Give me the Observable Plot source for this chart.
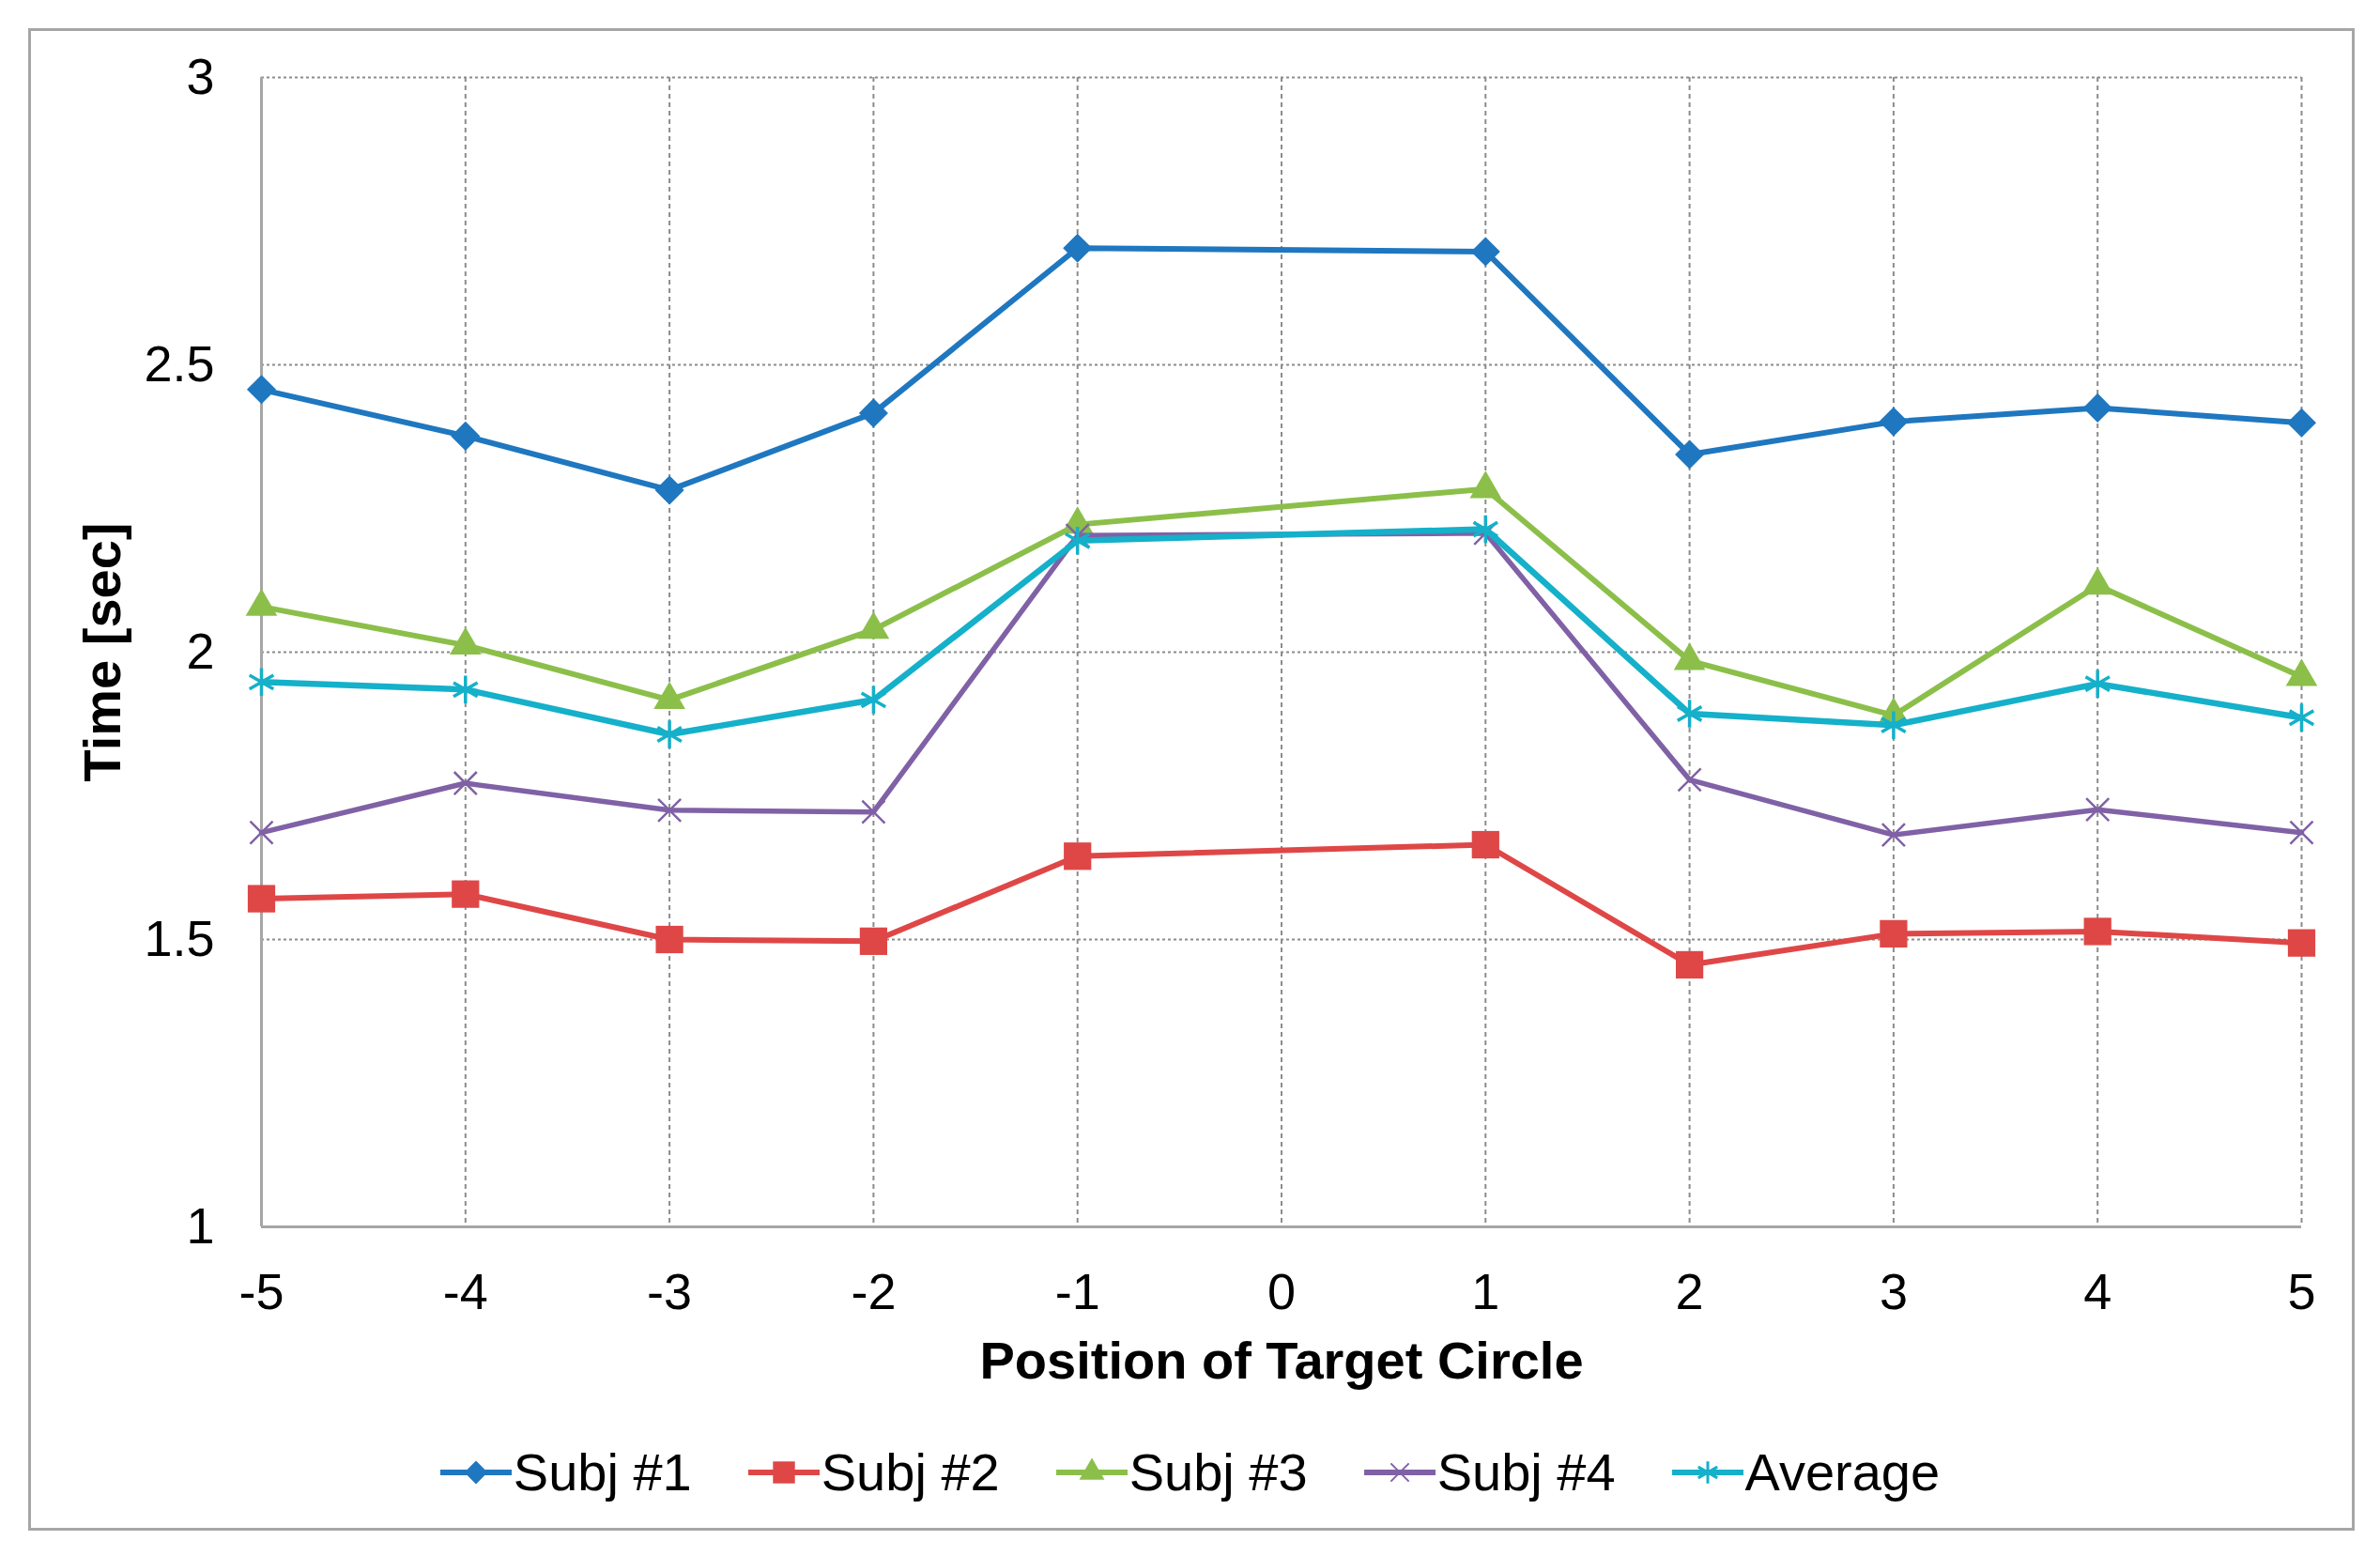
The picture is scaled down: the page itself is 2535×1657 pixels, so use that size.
<!DOCTYPE html>
<html><head><meta charset="utf-8">
<script src="https://cdn.jsdelivr.net/npm/d3@7"></script>
<script src="https://cdn.jsdelivr.net/npm/@observablehq/plot@0.6"></script>
<style>
html,body{margin:0;padding:0;background:#fff;}
body{width:2535px;height:1657px;position:relative;overflow:hidden;font-family:"Liberation Sans",Arial,sans-serif;}
#frame{position:absolute;left:30px;top:30px;width:2472px;height:1594px;border:3px solid #A6A6A6;}
#chart{position:absolute;left:0;top:0;}
#legend{position:absolute;left:0;top:1530px;width:2535px;height:76px;display:flex;justify-content:center;align-items:center;gap:60px;}
.item{display:flex;align-items:center;}
.item span{font-size:56px;color:#000;line-height:76px;margin-left:2px;}
</style></head><body>
<div id="frame"></div>
<div id="chart"></div>
<div id="legend"></div>
<script>
const positions = [-5,-4,-3,-2,-1,1,2,3,4,5];
const subj1   = [2.457,2.376,2.282,2.416,2.703,2.697,2.344,2.401,2.425,2.399];
const subj2   = [1.571,1.579,1.500,1.497,1.645,1.665,1.456,1.510,1.514,1.494];
const subj3   = [2.079,2.012,1.917,2.039,2.222,2.284,1.985,1.890,2.116,1.957];
const subj4   = [1.686,1.772,1.725,1.722,2.203,2.207,1.778,1.682,1.726,1.686];
const average = [1.948,1.935,1.857,1.917,2.194,2.214,1.893,1.873,1.945,1.886];
const seriesNames   = ["Subj #1","Subj #2","Subj #3","Subj #4","Average"];
const seriesColors  = ["#1F77C0","#DF4747","#8CBF4A","#8061A6","#15B0C9"];
const seriesSymbols = ["diamond2","square","triangle","times","asterisk"];
const xTicks = [-5,-4,-3,-2,-1,0,1,2,3,4,5];
const xTickLabels = ["-5","-4","-3","-2","-1","0","1","2","3","4","5"];
const yTicks = [1,1.5,2,2.5,3];
const yTickLabels = ["1","1.5","2","2.5","3"];
const xTitle = "Position of Target Circle";
const yTitle = "Time [sec]";

const seriesValues = [subj1, subj2, subj3, subj4, average];
const lineWidths = [6, 6, 6, 5.5, 6.5];
const markerR = [14, 16.5, 12.5, 11, 14];
const filled = [true, true, true, false, false];

const seriesMarks = [];
seriesNames.forEach((name, i) => {
  const rows = positions.map((p, j) => ({series: name, x: p, y: seriesValues[i][j]}));
  seriesMarks.push(Plot.line(rows, {x: "x", y: "y", stroke: seriesColors[i], strokeWidth: lineWidths[i], strokeLinejoin: "round"}));
  if (filled[i]) {
    seriesMarks.push(Plot.dot(rows, {x: "x", y: "y", symbol: seriesSymbols[i], r: markerR[i], fill: seriesColors[i], stroke: "none"}));
  } else {
    seriesMarks.push(Plot.dot(rows, {x: "x", y: "y", symbol: seriesSymbols[i], r: markerR[i], fill: "none", stroke: seriesColors[i], strokeWidth: i === 3 ? 2.5 : 3.5}));
  }
});

const chart = Plot.plot({
  width: 2535,
  height: 1500,
  marginLeft: 278,
  marginRight: 84,
  marginTop: 82,
  marginBottom: 194,
  style: {fontFamily: '"Liberation Sans", Arial, sans-serif', fontSize: "54px", color: "#000", background: "transparent"},
  x: {type: "linear", domain: [-5, 5]},
  y: {type: "linear", domain: [1, 3]},
  marks: [
    Plot.gridX(xTicks, {stroke: "#8C8C8C", strokeOpacity: 1, strokeWidth: 2, strokeDasharray: "5,4"}),
    Plot.gridY(yTicks, {stroke: "#8C8C8C", strokeOpacity: 1, strokeWidth: 2, strokeDasharray: "3,3"}),
    Plot.ruleX([-5], {stroke: "#A6A6A6", strokeWidth: 3}),
    Plot.ruleY([1], {stroke: "#A6A6A6", strokeWidth: 3}),
    Plot.axisY(yTicks, {tickSize: 0, tickPadding: 50, fontSize: 54, fill: "#000", tickFormat: d => yTickLabels[yTicks.indexOf(d)], label: null}),
    Plot.axisX(xTicks, {tickSize: 0, tickPadding: 49, fontSize: 54, fill: "#000", tickFormat: d => xTickLabels[xTicks.indexOf(d)], label: null}),
    Plot.text([yTitle], {frameAnchor: "left", dx: -168, rotate: -90, fontWeight: "bold", fontSize: 56, fill: "#000", textAnchor: "middle"}),
    Plot.text([xTitle], {frameAnchor: "bottom", dy: 144, fontWeight: "bold", fontSize: 56, fill: "#000", lineAnchor: "middle", textAnchor: "middle"}),
    ...seriesMarks
  ]
});
document.getElementById("chart").appendChild(chart);

// legend
const legend = d3.select("#legend");
const symbolMap = {diamond2: d3.symbolDiamond2, square: d3.symbolSquare, triangle: d3.symbolTriangle, times: d3.symbolTimes, asterisk: d3.symbolAsterisk};
seriesNames.forEach((name, i) => {
  const item = legend.append("div").attr("class", "item");
  const svg = item.append("svg").attr("width", 76).attr("height", 40);
  svg.append("line").attr("x1", 0).attr("x2", 76).attr("y1", 20).attr("y2", 20)
    .attr("stroke", seriesColors[i]).attr("stroke-width", 6);
  const r = markerR[i] * 0.8;
  const path = d3.symbol(symbolMap[seriesSymbols[i]], r * r * Math.PI)();
  const p = svg.append("path").attr("d", path).attr("transform", "translate(38,20)");
  if (filled[i]) p.attr("fill", seriesColors[i]);
  else p.attr("fill", "none").attr("stroke", seriesColors[i]).attr("stroke-width", i === 3 ? 2 : 3);
  item.append("span").text(name);
});
</script>
</body></html>
